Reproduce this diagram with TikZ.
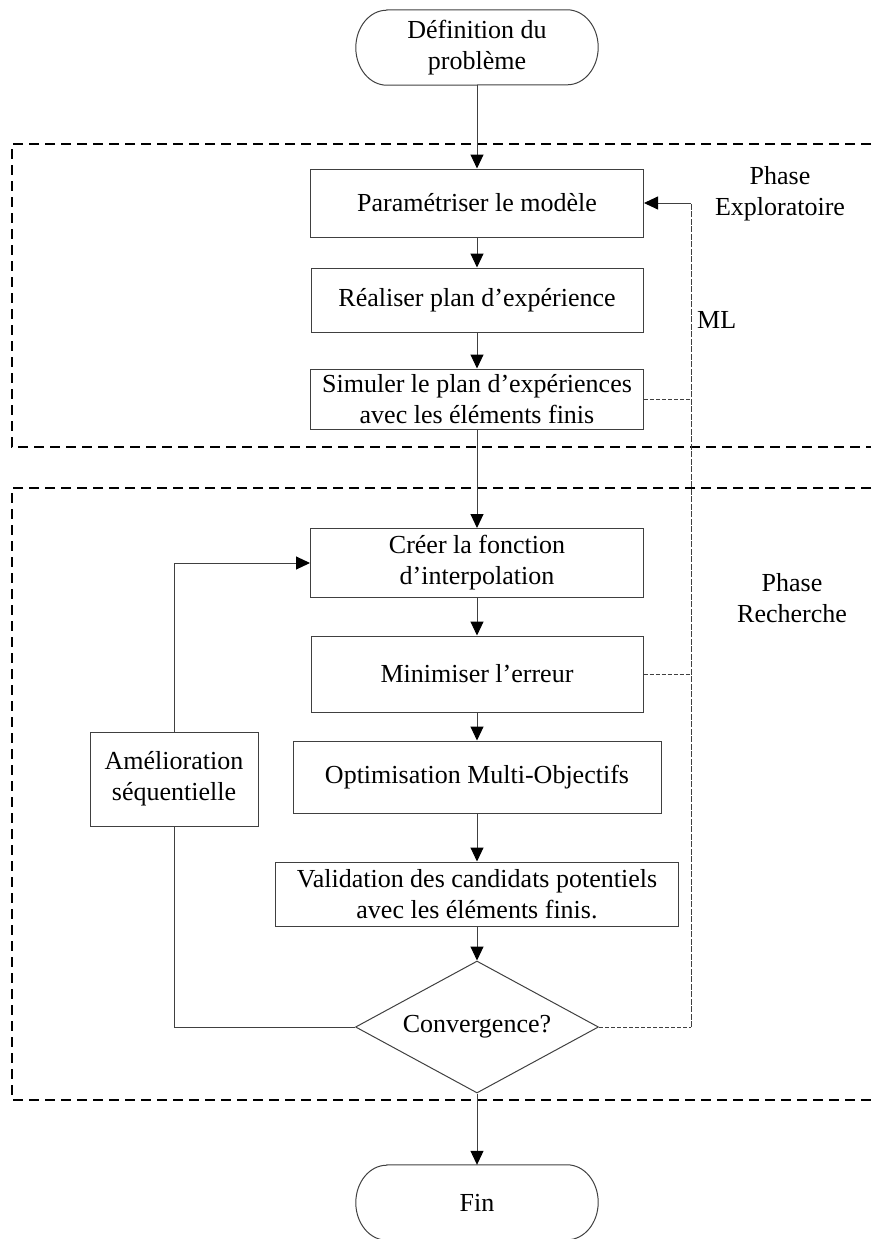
\documentclass[tikz,border=0pt]{standalone}
\usepackage{fontspec}
\setmainfont{Liberation Serif}
\usetikzlibrary{shapes.geometric,arrows.meta}

% Stadium-shaped outline around a (borderless) terminal node
\newcommand\drawstadium[1]{%
  \draw[outline] ([xshift=31pt]#1.north west) -- ([xshift=-31pt]#1.north east)
    arc[start angle=90,end angle=-90,x radius=31pt,y radius=37.5pt]
    -- ([xshift=31pt]#1.south west)
    arc[start angle=270,end angle=90,x radius=31pt,y radius=37.5pt] -- cycle;}

\begin{document}
\begin{tikzpicture}[x=1pt,y=-1pt,
  every node/.style={font=\fontsize{26}{31}\selectfont, inner sep=0pt, align=center},
  outline/.style={draw=black!75, line width=1pt},
  procbox/.style={rectangle, outline},
  terminal/.style={rectangle, minimum width=242pt, minimum height=75pt},
  decision/.style={diamond, outline, aspect=1.84, minimum width=243pt, minimum height=132pt},
  tip/.style={-{Triangle[length=14pt,width=13pt,color=black]}},
  flow/.style={draw=black!75, line width=1pt, tip},
  link/.style={draw=black!75, line width=1pt},
  mlline/.style={draw=black!75, line width=0.9pt, dash pattern=on 4pt off 2pt},
  mlmain/.style={draw=black!75, line width=0.9pt, dash pattern=on 6pt off 1.5pt},
  region/.style={draw=black, line width=2pt, dash pattern=on 10pt off 6pt},
  phase/.style={align=center}
]
\useasboundingbox (0,0) rectangle (871,1239);

% Phase regions (open on the right)
\draw[region] (871,144) -- (12,144) -- (12,447) -- (871,447);
\draw[region] (871,488) -- (12,488) -- (12,1100) -- (871,1100);

% Terminals
\node[terminal] (start) at (477,47.5) {Définition du\\problème};
\drawstadium{start}
\node[terminal] (fin) at (477,1202.5) {Fin};
\drawstadium{fin}

% Process steps
\node[procbox, minimum width=333pt, minimum height=68pt] (param) at (477,203) {Paramétriser le modèle};
\node[procbox, minimum width=332pt, minimum height=64pt] (plan) at (477,300) {Réaliser plan d’expérience};
\node[procbox, minimum width=333pt, minimum height=60pt] (simu) at (477,399) {Simuler le plan d’expériences\\avec les éléments finis};
\node[procbox, minimum width=333pt, minimum height=69pt] (creer) at (477,563) {Créer la fonction\\d’interpolation};
\node[procbox, minimum width=332pt, minimum height=76pt] (mini) at (477,674) {Minimiser l’erreur};
\node[procbox, minimum width=368pt, minimum height=72pt] (optim) at (477,777) {Optimisation Multi-Objectifs};
\node[procbox, minimum width=403pt, minimum height=64pt] (valid) at (477,894) {Validation des candidats potentiels\\avec les éléments finis.};
\node[decision] (conv) at (477,1027) {Convergence?};
\node[procbox, minimum width=168pt, minimum height=94pt] (amel) at (174,779) {Amélioration\\séquentielle};

% Labels
\node[phase] (phexp) at (780,194) {Phase\\Exploratoire};
\node[phase] (phrech) at (792,598) {Phase\\Recherche};
\node[anchor=west] (ml) at (697,320) {ML};

% Main flow
\draw[flow] (start) -- (param);
\draw[flow] (param) -- (plan);
\draw[flow] (plan) -- (simu);
\draw[flow] (simu) -- (creer);
\draw[flow] (creer) -- (mini);
\draw[flow] (mini) -- (optim);
\draw[flow] (optim) -- (valid);
\draw[flow] (valid) -- (conv);
\draw[flow] (conv) -- (fin);

% Sequential improvement loop
\draw[link] (conv.west) -| (amel.south);
\draw[flow] (amel.north) |- (creer.west);

% ML feedback
\coordinate (mlbot) at (691,1027);
\coordinate (mltop) at (691,203);
\draw[mlline] (conv.east) -- (mlbot);
\draw[mlmain] (mlbot) -- (mltop);
\draw[draw=black!75, line width=0.9pt, tip] (mltop) -- (param.east);
\draw[mlline] (simu.east) -- (simu.east -| mlbot);
\draw[mlline] (mini.east) -- (mini.east -| mlbot);
\end{tikzpicture}
\end{document}
